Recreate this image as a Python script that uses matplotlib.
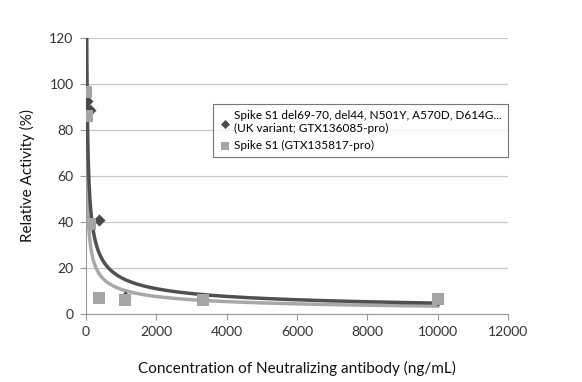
import numpy as np
import matplotlib
matplotlib.use("Agg")
import matplotlib.pyplot as plt

conc_uk = [13.7, 41, 123, 370, 1111, 3333, 10000]
act_uk = [97.0, 92.6, 88.5, 41.0, 7.5, 6.5, 6.0]
conc_wt = [13.7, 41, 123, 370, 1111, 3333, 10000]
act_wt = [96.7, 85.9, 39.0, 6.9, 6.0, 6.0, 6.5]

label_uk = "Spike S1 del69-70, del44, N501Y, A570D, D614G...\n(UK variant; GTX136085-pro)"
label_wt = "Spike S1 (GTX135817-pro)"
xticks = [0, 2000, 4000, 6000, 8000, 10000, 12000]
yticks = [0, 20, 40, 60, 80, 100, 120]

plt.rcParams['font.family'] = ['Lato', 'DejaVu Sans']
fig = plt.figure(figsize=(5.82, 3.82), dpi=100)
ax = fig.add_axes([86/582, 1-314/382, (508-86)/582, (314-38)/382])

dark = '#4a4a4a'
light = '#a5a5a5'

def power_fit(x, y):
    b, a = np.polyfit(np.log(x), np.log(y), 1)
    xs = np.linspace(min(x), max(x), 3000)
    return xs, np.exp(a) * xs ** b

xs, ys = power_fit(conc_wt, act_wt)
ax.plot(xs, ys, color='#a8a8a8', lw=2.5, zorder=2)
xs, ys = power_fit(conc_uk, act_uk)
ax.plot(xs, ys, color='#505050', lw=2.5, zorder=3)

ax.scatter(conc_uk, act_uk, marker='D', s=38, color=dark, zorder=4, label=label_uk, linewidths=0)
ax.scatter(conc_wt, act_wt, marker='s', s=70, color=light, zorder=5, label=label_wt, linewidths=0)

ax.set_xlim(0, 12000)
ax.set_ylim(0, 120)
ax.set_xticks(xticks)
ax.set_yticks(yticks)
ax.tick_params(labelsize=10, colors='#333333', length=4, color='#999999', pad=5)
ax.grid(axis='y', color='#c8c8c8', lw=0.9)
ax.set_axisbelow(True)
for s in ['top', 'right']:
    ax.spines[s].set_visible(False)
for s in ['left', 'bottom']:
    ax.spines[s].set_color('#999999')

ax.set_xlabel("Concentration of Neutralizing antibody (ng/mL)", fontsize=11, labelpad=16, color='#111111')
ax.set_ylabel("Relative Activity (%)", fontsize=11, labelpad=10, color='#111111')

leg = ax.legend(loc='upper left', bbox_to_anchor=((213-86)/422, 1-(104-38)/276),
                fontsize=8.5, frameon=True, fancybox=False, borderaxespad=0, handletextpad=0.2,
                borderpad=0.55, labelspacing=0.45, handlelength=1.0, markerscale=0.75)
leg.get_frame().set_edgecolor('#555555')
leg.get_frame().set_linewidth(0.8)

fig.savefig("out.png", dpi=100)
